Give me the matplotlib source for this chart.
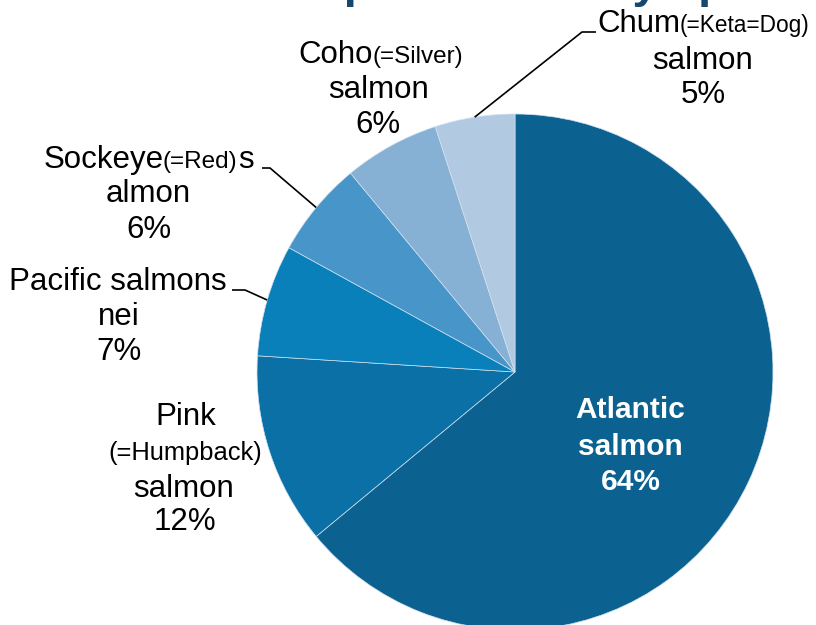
import numpy as np
import matplotlib
matplotlib.use('Agg')
import matplotlib.pyplot as plt

# share of salmon production by species, percent
species = ['Atlantic', 'Pink', 'Pacific', 'Sockeye', 'Coho', 'Chum']
shares = [64, 12, 7, 6, 6, 5]
colors = ['#0B6190', '#0A70A6', '#0A80BA', '#4795C9', '#87B0D5', '#B1CAE2']

W, H = 816, 625
FONT = 'Liberation Sans'
BIG = 22.5


def put(x, py, s, size=BIG, ha='center', **kw):
    # py is measured from the top edge
    ax.text(x, H - py, s, fontsize=size, ha=ha, va='baseline', family=FONT, **kw)


def edge_point(w):
    mid = np.deg2rad((w.theta1 + w.theta2) / 2)
    return w.center[0] + w.r * np.cos(mid), w.center[1] + w.r * np.sin(mid)


def leader(w, elbow, end):
    x0, y0 = edge_point(w)
    ax.plot([x0, elbow[0], end[0]], [y0, H - elbow[1], H - end[1]],
            color='black', lw=1.2, solid_capstyle='butt')


fig = plt.figure(figsize=(W / 100, H / 100), dpi=100)
ax = fig.add_axes([0, 0, 1, 1])
wedges, _ = ax.pie(shares, colors=colors, startangle=90, counterclock=False,
                   center=(515, H - 372), radius=258,
                   wedgeprops=dict(edgecolor='#cfe0ef', linewidth=0.5))
ax.set_xlim(0, W)
ax.set_ylim(0, H)
ax.set_aspect('equal')
ax.axis('off')

# title, mostly above the top edge
put(503, -3, 'Salmon production by species', size=34, weight='bold', color='#16486F')

w = dict(zip(species, wedges))

# Atlantic, inside the wedge
put(630, 418, 'Atlantic', size=21.5, weight='bold', color='white')
put(630, 455, 'salmon', size=21.5, weight='bold', color='white')
put(631, 490, '64%', size=21.5, weight='bold', color='white')

# Pink
put(186, 425, 'Pink')
put(185, 460, '(=Humpback)', size=18.4)
put(184, 497, 'salmon')
put(185, 530, '12%')

# Pacific salmons nei
put(118, 290, 'Pacific salmons')
put(119, 325, 'nei')
put(119, 360, '7%')
leader(w['Pacific'], (245, 290), (232, 290))

# Sockeye
put(164, 168, 'Sockeye', ha='right')
put(163, 168, '(=Red)', size=17.5, ha='left')
put(238, 168, 's', ha='left')
put(148, 202, 'almon')
put(149, 238, '6%')
leader(w['Sockeye'], (270, 168), (262, 168))

# Coho
put(373, 63, 'Coho', ha='right')
put(372, 63, '(=Silver)', size=17.5, ha='left')
put(379, 98, 'salmon')
put(378, 133, '6%')

# Chum
put(680, 32, 'Chum', ha='right')
put(680, 32, '(=Keta=Dog)', size=16.3, ha='left')
put(703, 69, 'salmon')
put(703, 103, '5%')
leader(w['Chum'], (582, 32), (596, 32))

fig.savefig('out.png', dpi=100)
